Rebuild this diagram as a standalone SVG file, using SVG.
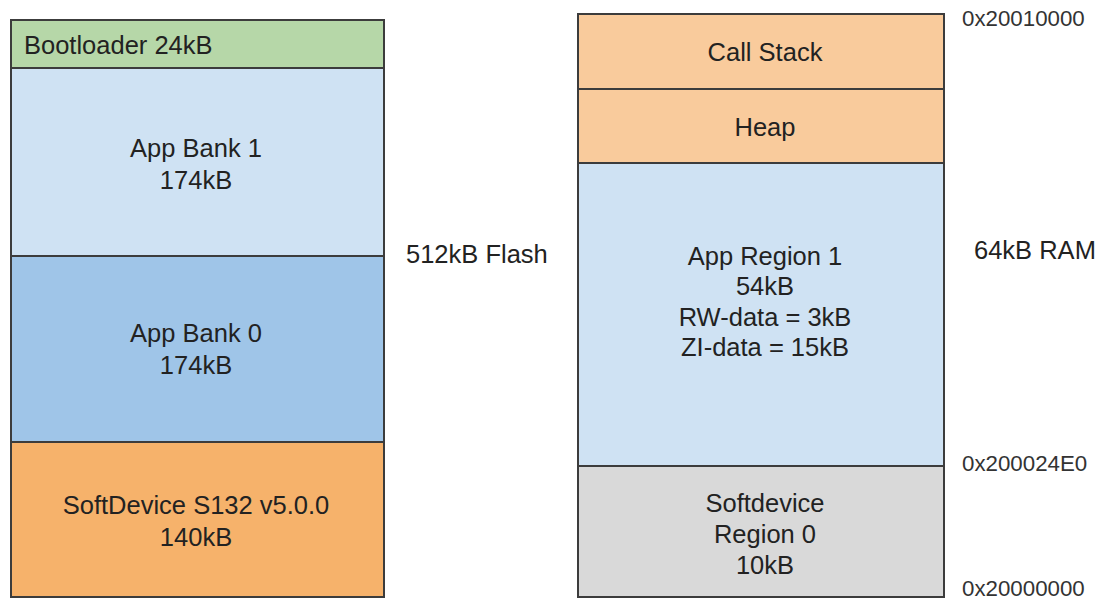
<svg xmlns="http://www.w3.org/2000/svg" width="1101" height="599" viewBox="0 0 1101 599">
  <style>
    .blk { stroke: #3c3c3c; stroke-width: 2; }
    .lbl { font-family: "Liberation Sans", Arial, sans-serif; font-size: 25.5px; fill: #222; text-anchor: middle; dominant-baseline: central; }
    .left { text-anchor: start; }
    .addr { font-family: "Liberation Sans", Arial, sans-serif; font-size: 22.3px; fill: #333; text-anchor: start; dominant-baseline: central; }
  </style>
  <rect width="1101" height="599" fill="#ffffff"/>

  <!-- Flash memory map -->
  <g id="bootloader">
    <rect class="blk" x="11" y="20" width="373" height="48" fill="#b6d7a8"/>
    <text class="lbl left" x="24" y="45">Bootloader 24kB</text>
  </g>
  <g id="app-bank-1">
    <rect class="blk" x="11" y="68" width="373" height="188" fill="#cfe2f3"/>
    <text class="lbl" x="196" y="148">App Bank 1</text>
    <text class="lbl" x="196" y="180">174kB</text>
  </g>
  <g id="app-bank-0">
    <rect class="blk" x="11" y="256" width="373" height="186" fill="#9fc5e8"/>
    <text class="lbl" x="196" y="333">App Bank 0</text>
    <text class="lbl" x="196" y="365">174kB</text>
  </g>
  <g id="softdevice">
    <rect class="blk" x="11" y="442" width="373" height="155" fill="#f6b26b"/>
    <text class="lbl" x="196" y="505">SoftDevice S132 v5.0.0</text>
    <text class="lbl" x="196" y="537">140kB</text>
  </g>
  <g id="flash-label">
    <text class="lbl left" x="406" y="254">512kB Flash</text>
  </g>

  <!-- RAM memory map -->
  <g id="call-stack">
    <rect class="blk" x="578" y="14" width="366" height="75" fill="#f9cb9c"/>
    <text class="lbl" x="765" y="52">Call Stack</text>
  </g>
  <g id="heap">
    <rect class="blk" x="578" y="89" width="366" height="74" fill="#f9cb9c"/>
    <text class="lbl" x="765" y="127">Heap</text>
  </g>
  <g id="app-region-1">
    <rect class="blk" x="578" y="163" width="366" height="303" fill="#cfe2f3"/>
    <text class="lbl" x="765" y="256">App Region 1</text>
    <text class="lbl" x="765" y="286">54kB</text>
    <text class="lbl" x="765" y="317">RW-data = 3kB</text>
    <text class="lbl" x="765" y="347">ZI-data = 15kB</text>
  </g>
  <g id="softdevice-region-0">
    <rect class="blk" x="578" y="466" width="366" height="131" fill="#d9d9d9"/>
    <text class="lbl" x="765" y="503">Softdevice</text>
    <text class="lbl" x="765" y="534">Region 0</text>
    <text class="lbl" x="765" y="565">10kB</text>
  </g>
  <g id="ram-label">
    <text class="lbl left" x="974" y="250">64kB RAM</text>
  </g>
  <g id="addresses">
    <text class="addr" x="962" y="18">0x20010000</text>
    <text class="addr" x="962" y="463">0x200024E0</text>
    <text class="addr" x="962" y="588">0x20000000</text>
  </g>
</svg>
